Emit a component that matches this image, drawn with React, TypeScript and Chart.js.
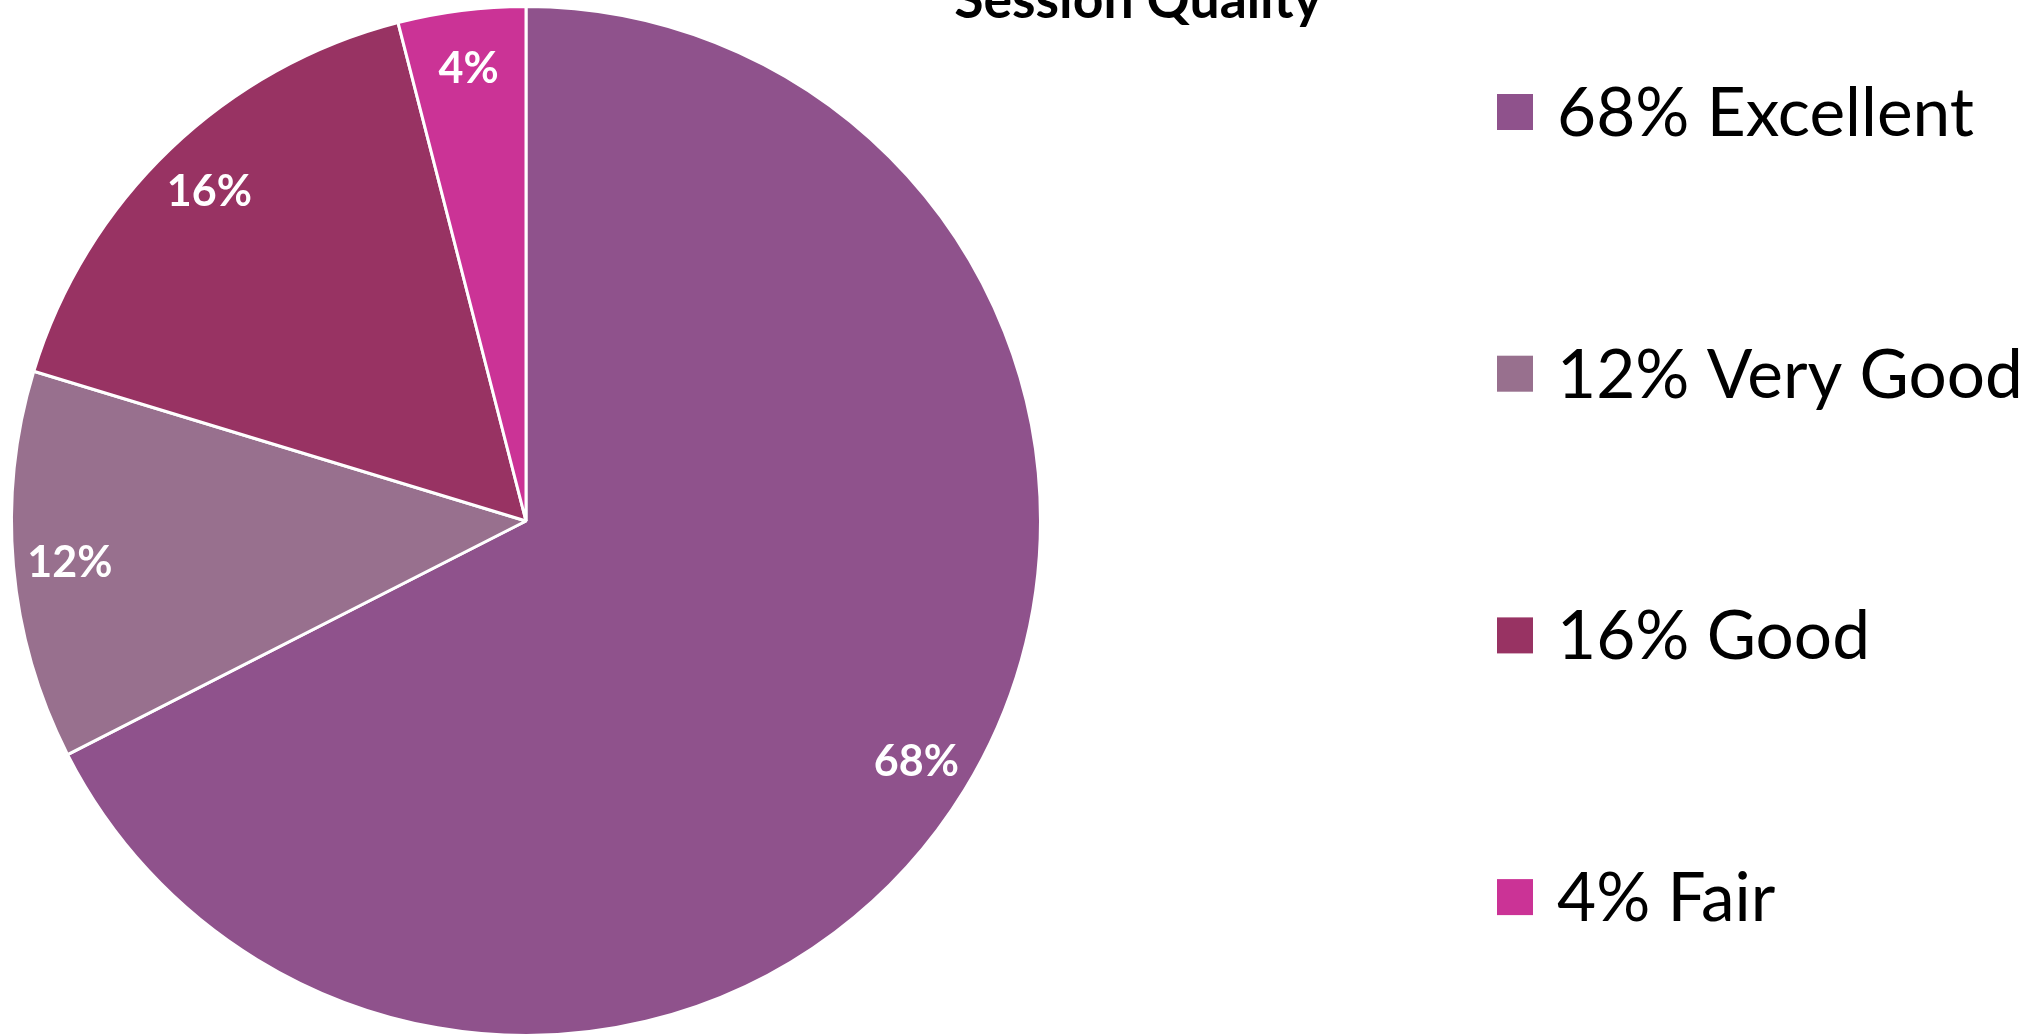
import React, { useEffect, useRef } from "react";
import { Chart, registerables } from "chart.js";

Chart.register(...registerables);

const chartTitle = "Session Quality";
const categories = ["Excellent", "Very Good", "Good", "Fair"];
const shares = [67.5, 12.2, 16.3, 4.0];
const sliceColors = ["#8F528C", "#98708E", "#983363", "#CB3396"];

const pct = (v: number) => `${Math.round(v)}%`;

const W = 2034;
const H = 1045;

const overlayPlugin = {
  id: "overlay",
  afterDatasetsDraw(chart: any) {
    const ctx = chart.ctx as CanvasRenderingContext2D;
    const meta = chart.getDatasetMeta(0);
    ctx.save();
    // slice labels
    ctx.fillStyle = "#ffffff";
    ctx.font = "bold 43px Lato";
    ctx.textAlign = "center";
    ctx.textBaseline = "middle";
    meta.data.forEach((arc: any, i: number) => {
      const { x, y, startAngle, endAngle, outerRadius } = arc.getProps(
        ["x", "y", "startAngle", "endAngle", "outerRadius"],
        true
      );
      const mid = (startAngle + endAngle) / 2;
      const r = outerRadius * 0.89;
      ctx.fillText(pct(shares[i]), x + Math.cos(mid) * r, y + Math.sin(mid) * r + 2);
    });
    // title
    ctx.fillStyle = "#000000";
    ctx.font = "bold 53.5px Lato";
    ctx.textAlign = "center";
    ctx.textBaseline = "alphabetic";
    ctx.fillText(chartTitle, 1138, 18);
    // legend
    ctx.font = "67.5px Lato";
    ctx.textAlign = "left";
    const boxX = 1497;
    const box = 36;
    const firstY = 112;
    const step = 261.7;
    categories.forEach((c, i) => {
      const cy = firstY + i * step;
      ctx.fillStyle = sliceColors[i];
      ctx.fillRect(boxX, cy - box / 2, box, box);
      ctx.fillStyle = "#000000";
      ctx.fillText(`${pct(shares[i])} ${c}`, boxX + box + 24, cy + 24);
    });
    ctx.restore();
  },
};

export default function App() {
  const ref = useRef<HTMLCanvasElement | null>(null);
  useEffect(() => {
    document.body.style.margin = "0";
    const canvas = ref.current!;
    const chart = new Chart(canvas, {
      type: "pie",
      data: {
        labels: categories,
        datasets: [
          {
            data: shares,
            backgroundColor: sliceColors,
            borderColor: "#ffffff",
            borderWidth: 3,
          },
        ],
      },
      options: {
        animation: false,
        responsive: false,
        devicePixelRatio: 1,
        layout: { padding: { left: 10, top: 5, right: 992, bottom: 8 } },
        plugins: {
          legend: { display: false },
          title: { display: false },
          tooltip: { enabled: false },
        },
      },
      plugins: [overlayPlugin],
    });
    return () => chart.destroy();
  }, []);
  return (
    <div style={{ width: W, height: 1035, overflow: "hidden", position: "relative", background: "#fff" }}>
      <canvas ref={ref} width={W} height={H} style={{ position: "absolute", left: 0, top: 0, width: W, height: H }} />
    </div>
  );
}
